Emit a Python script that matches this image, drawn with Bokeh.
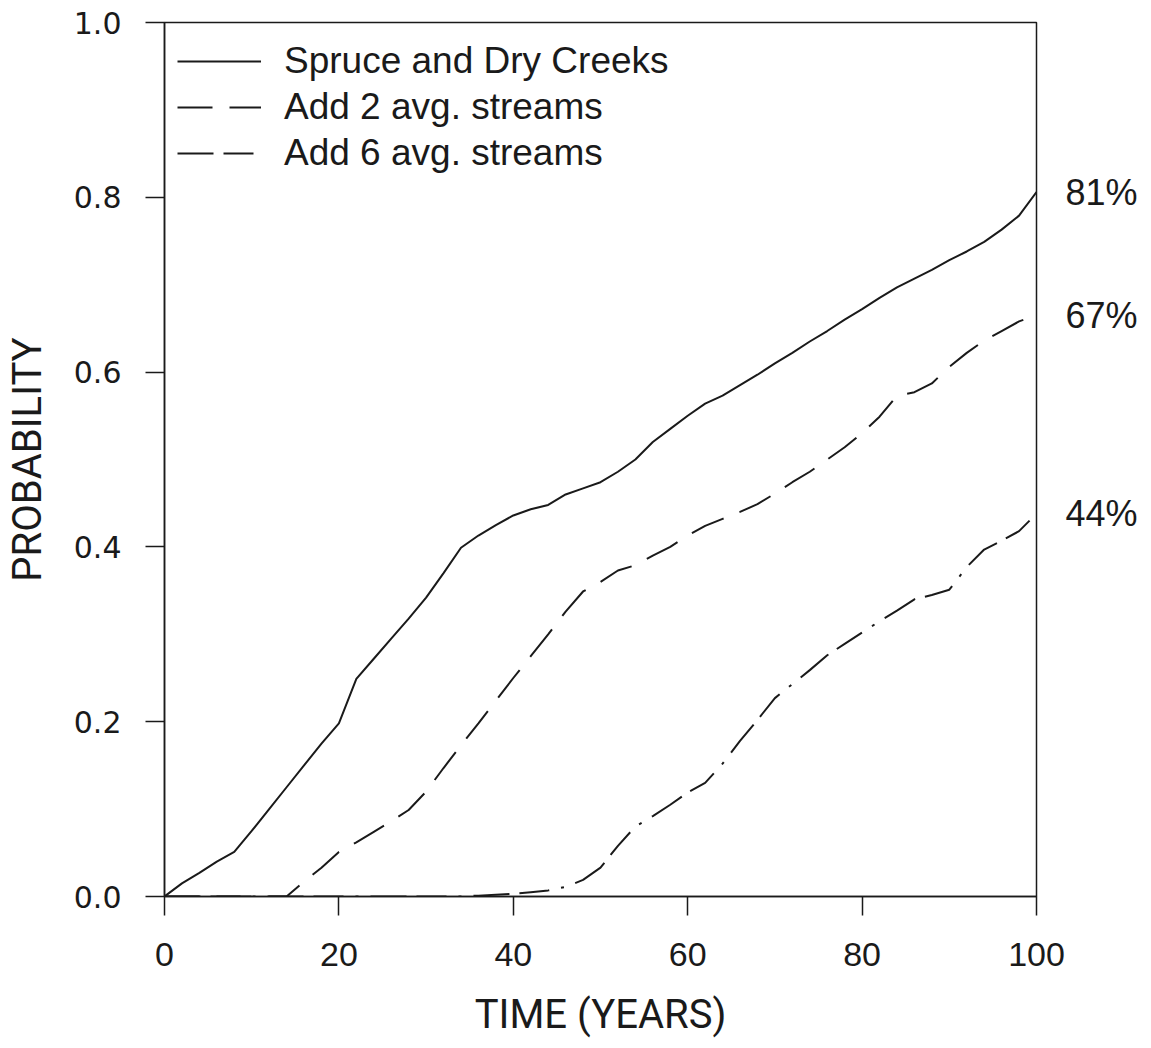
from bokeh.plotting import figure
from bokeh.models import (Range1d, FixedTicker, PrintfTickFormatter, Legend, LegendItem, LinearAxis)
from bokeh.embed import file_html
from bokeh.resources import INLINE

# ---- data ----
years = [0, 2, 4, 6, 8, 10, 12, 14, 16, 18, 20, 22, 24, 26, 28, 30, 32, 34, 36, 38, 40,
         42, 44, 46, 48, 50, 52, 54, 56, 58, 60, 62, 64, 66, 68, 70, 72, 74, 76, 78, 80,
         82, 84, 86, 88, 90, 92, 94, 96, 98, 100]

spruce_dry = [0.0, 0.015, 0.027, 0.040, 0.051, 0.075, 0.100, 0.125, 0.150, 0.175, 0.198,
              0.249, 0.272, 0.295, 0.318, 0.342, 0.370, 0.399, 0.413, 0.425, 0.436,
              0.443, 0.448, 0.460, 0.467, 0.474, 0.486, 0.500, 0.520, 0.535, 0.550,
              0.564, 0.573, 0.585, 0.597, 0.610, 0.622, 0.635, 0.647, 0.660, 0.672,
              0.685, 0.697, 0.707, 0.717, 0.728, 0.738, 0.749, 0.763, 0.779, 0.806]

add_2 = [0.0, 0.0, 0.0, 0.0, 0.0, 0.0, 0.0, 0.0, 0.017, 0.033, 0.051,
         0.062, 0.074, 0.086, 0.099, 0.120, 0.147, 0.173, 0.198, 0.224, 0.250,
         0.275, 0.300, 0.326, 0.349, 0.360, 0.373, 0.379, 0.390, 0.400, 0.413,
         0.424, 0.432, 0.440, 0.449, 0.461, 0.474, 0.486, 0.500, 0.514, 0.530,
         0.549, 0.573, 0.577, 0.587, 0.606, 0.622, 0.636, 0.647, 0.658, 0.665]

add_6 = [0.0, 0.0, 0.0, 0.0, 0.0, 0.0, 0.0, 0.0, 0.0, 0.0, 0.0,
         0.0, 0.0, 0.0, 0.0, 0.0, 0.0, 0.0, 0.001, 0.002, 0.003,
         0.005, 0.007, 0.011, 0.019, 0.033, 0.058, 0.080, 0.092, 0.105, 0.119,
         0.130, 0.152, 0.178, 0.202, 0.227, 0.243, 0.259, 0.276, 0.289, 0.302,
         0.315, 0.327, 0.340, 0.345, 0.351, 0.377, 0.397, 0.407, 0.418, 0.438]

series_names = ["Spruce and Dry Creeks", "Add 2 avg. streams", "Add 6 avg. streams"]
end_labels = ["81%", "67%", "44%"]
x_ticks = [0, 20, 40, 60, 80, 100]
y_ticks = [0.0, 0.2, 0.4, 0.6, 0.8, 1.0]

INK = "#1a1a1a"

p = figure(width=1144, height=1040, output_backend="svg", toolbar_location=None,
           x_range=Range1d(0, 100), y_range=Range1d(0, 1),
           min_border_left=162, min_border_right=110, min_border_top=22, min_border_bottom=144)
p.frame_width = 872
p.frame_height = 874

p.grid.visible = False
p.background_fill_color = "white"
p.border_fill_color = "white"
p.outline_line_color = INK
p.outline_line_width = 1.5
p.outline_line_alpha = 1

series = [spruce_dry, add_2, add_6]
dashes = ["solid", "35 17", "36 10 30 12 3 12"]
renderers = []
for vals, dash in zip(series, dashes):
    r = p.line(years, vals, line_color=INK, line_width=2, line_dash=dash)
    renderers.append(r)

legend = Legend(items=[LegendItem(label=n, renderers=[r]) for n, r in zip(series_names, renderers)],
                location=(13, 720))
legend.label_text_font = "Liberation Sans"
legend.label_text_font_size = "37px"
legend.label_text_color = INK
legend.glyph_width = 84
legend.glyph_height = 46
legend.label_height = 46
legend.label_standoff = 23
legend.spacing = 0
legend.margin = 0
legend.padding = 0
legend.border_line_alpha = 0
legend.background_fill_alpha = 0
p.add_layout(legend, "center")

# end-of-line percentage labels, as a right-hand axis at each series' final value
end_vals = [s[-1] for s in series]
ra = LinearAxis(ticker=FixedTicker(ticks=end_vals),
                major_label_overrides={v: t for v, t in zip(end_vals, end_labels)})
ra.axis_line_alpha = 0
ra.major_tick_out = 0
ra.major_tick_in = 0
ra.minor_tick_out = 0
ra.minor_tick_in = 0
ra.major_label_standoff = 29
ra.major_label_text_font = "Liberation Sans"
ra.major_label_text_font_size = "36px"
ra.major_label_text_color = INK
p.add_layout(ra, "right")

# axes
xa = p.xaxis[0]
xa.ticker = FixedTicker(ticks=x_ticks)
xa.major_label_text_font = "Liberation Sans"
xa.major_label_text_font_size = "34px"
xa.major_label_standoff = 27
xa.axis_label = "TIME (YEARS)"
xa.axis_label_text_font = "Roboto"
xa.axis_label_text_font_size = "40px"
xa.axis_label_text_font_style = "normal"
xa.axis_label_standoff = 22

ya = p.yaxis[0]
ya.ticker = FixedTicker(ticks=y_ticks)
ya.formatter = PrintfTickFormatter(format="%.1f")
ya.major_label_text_font = "DejaVu Sans"
ya.major_label_text_font_size = "30px"
ya.major_label_standoff = 24
ya.axis_label = "PROBABILITY"
ya.axis_label_text_font = "Roboto"
ya.axis_label_text_font_size = "40px"
ya.axis_label_text_font_style = "normal"
ya.axis_label_standoff = 20

for ax in (xa, ya):
    ax.major_tick_out = 19
    ax.major_tick_in = 0
    ax.minor_tick_out = 0
    ax.minor_tick_in = 0
    ax.axis_line_color = INK
    ax.axis_line_width = 1.5
    ax.major_tick_line_color = INK
    ax.major_tick_line_width = 1.5
    ax.major_label_text_color = INK
    ax.axis_label_text_color = INK

open("out.html", "w").write(file_html(p, INLINE))
